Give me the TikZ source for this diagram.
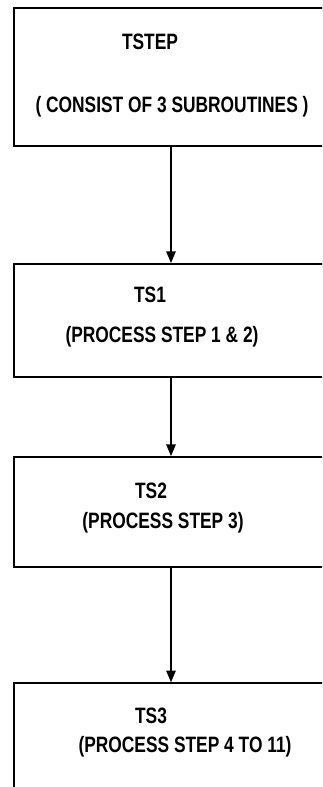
\documentclass[tikz,border=0pt]{standalone}
\usepackage{fontspec}
\usepackage{tikz}
\usetikzlibrary{positioning, arrows.meta}
\newfontfamily\dotfont[FakeStretch=0.78]{Liberation Sans}
\tikzstyle{arrow} = [line width=1.4pt,-{Triangle[length=10pt,width=8pt]}]

\begin{document}
\begin{tikzpicture}[
    x=0.03cm, y=-0.03cm,
    stepbox/.style={rectangle, draw, line width=1.8pt, minimum width=9.42cm, inner sep=0pt},
    caption/.style={font=\dotfont\bfseries\fontsize{19}{21}\selectfont, text height=13.6pt, text depth=0pt, inner sep=0pt}
]
    \useasboundingbox (0,0) rectangle (322,787);
    \clip (0,0) rectangle (322,787);

    \node[stepbox, minimum height=4.14cm] (tstep) at (171,77) {};
    \node[stepbox, minimum height=3.39cm, below=3.48cm of tstep] (ts1) {};
    \node[stepbox, minimum height=3.3cm, below=2.34cm of ts1] (ts2) {};
    \node[stepbox, minimum height=3.69cm, below=3.42cm of ts2] (ts3) {};

    \node[caption] (tstepname) at (150,42) {TSTEP};
    \node[caption] (tstepnote) at (172,105) {( CONSIST OF 3 SUBROUTINES )};
    \node[caption] (ts1name) at (150,295) {TS1};
    \node[caption] (ts1note) at (162,335) {(PROCESS STEP 1 \& 2)};
    \node[caption] (ts2name) at (151,491) {TS2};
    \node[caption] (ts2note) at (163,521) {(PROCESS STEP 3)};
    \node[caption] (ts3name) at (151,716) {TS3};
    \node[caption] (ts3note) at (185,745) {(PROCESS STEP 4 TO 11)};

    \draw[arrow] (tstep) -- (ts1);
    \draw[arrow] (ts1) -- (ts2);
    \draw[arrow] (ts2) -- (ts3);
\end{tikzpicture}
\end{document}
